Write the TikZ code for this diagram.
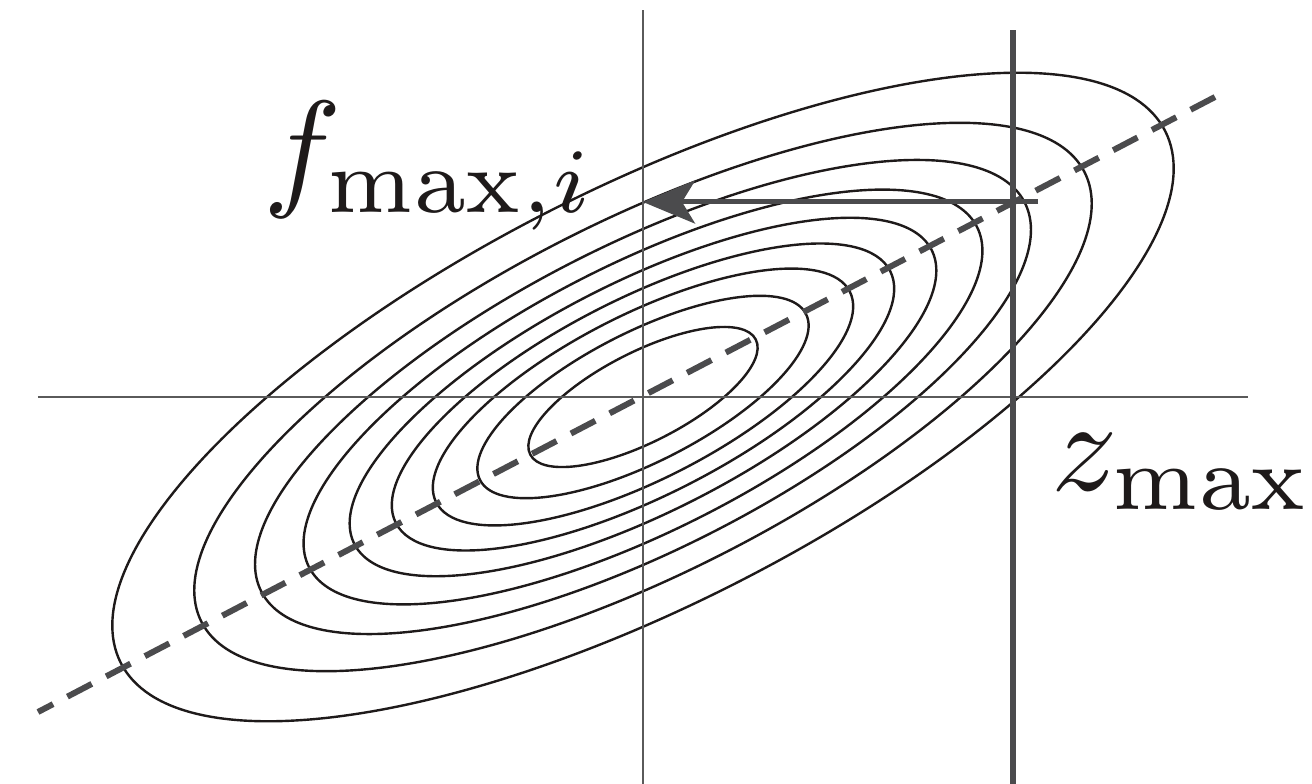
\documentclass[tikz,border=0pt]{standalone}
\usetikzlibrary{arrows.meta}
\definecolor{axgray}{HTML}{5A5A5A}
\definecolor{dkgray}{HTML}{4B4B4D}
\definecolor{inkc}{HTML}{1E1A1A}
\begin{document}
\begin{tikzpicture}[x=1pt,y=1pt,
  axisline/.style={draw=axgray,line width=2.4pt},
  contour/.style={draw=inkc,line width=2.4pt},
  limitline/.style={draw=dkgray,line width=5.4pt},
  arrowline/.style={draw=dkgray,line width=5pt,-{Stealth[length=52pt,width=43pt,inset=13pt]}},
  dashline/.style={draw=dkgray,line width=6pt,dash pattern=on 27.5pt off 16.2pt,dash phase=10.5pt},
  lab/.style={inner sep=0pt,text=inkc}]
\useasboundingbox (-643,-387) rectangle (669,397);
\coordinate (xl) at (-605,0);
\coordinate (xr) at (605,0);
\coordinate (yb) at (0,-387);
\coordinate (yt) at (0,387);
\coordinate (zb) at (370,-387);
\coordinate (zt) at (370,367);
\coordinate (as) at (395,195);
\coordinate (ae) at (0,195);
\coordinate (dl) at (-605,-315);
\coordinate (dr) at (572,300);
\foreach \a in {126.6,182.9,232.1,277.4,323.9,374.8,428.4,495.5,586}
  \draw[contour,rotate=27] (0,0) ellipse [x radius=\a, y radius={0.355*\a}];
\draw[axisline] (xl) -- (xr);
\draw[axisline] (yb) -- (yt);
\draw[dashline] (dl) -- (dr);
\draw[limitline] (zb) -- (zt);
\draw[arrowline] (as) -- (ae);
\node[lab,anchor=base east] (flab) at (-47,204) {\scalebox{13.1}{$f_{\max,i}$}};
\node[lab,anchor=base west] (zlab) at (408,-93) {\scalebox{13.1}{$z_{\max}$}};
\end{tikzpicture}
\end{document}
